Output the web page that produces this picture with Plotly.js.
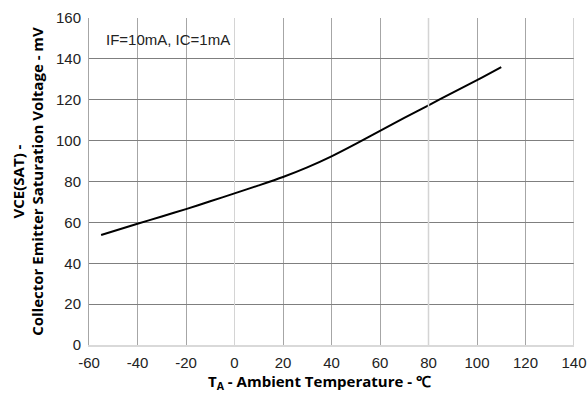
<!DOCTYPE html>
<html>
<head>
<meta charset="utf-8">
<script src="https://cdn.plot.ly/plotly-3.0.1.min.js"></script>
<style>html,body{margin:0;padding:0;background:#fff;}#chart{width:587px;height:401px;}</style>
</head>
<body>
<div id="chart"></div>
<script>
// Ambient temperature (°C)
const temperature = [-55, -40, -30, -20, -10, 0, 10, 20, 30, 40, 50, 60, 70, 80, 90, 100, 110];
// VCE(SAT) (mV)
const vceSat = [53.8, 59.3, 62.9, 66.5, 70.3, 74.2, 78.1, 82.2, 86.9, 92.3, 98.4, 104.8, 111.1, 117.3, 123.5, 129.6, 136];
const xTicks = [-60, -40, -20, 0, 20, 40, 60, 80, 100, 120, 140];
const yTicks = [0, 20, 40, 60, 80, 100, 120, 140, 160];

const trace = {
  x: temperature, y: vceSat, type: 'scatter', mode: 'lines',
  line: {color: '#000000', width: 2, shape: 'spline', smoothing: 0.8},
  hoverinfo: 'skip', showlegend: false
};

const tickFont = {family: 'Liberation Sans, Arial, sans-serif', size: 15, color: '#222'};
const titleFont = {family: 'Open Sans, sans-serif', size: 15, color: '#000', weight: 'bold'};

const layout = {
  width: 587, height: 401,
  margin: {l: 89, r: 13, t: 18, b: 56},
  paper_bgcolor: '#fff', plot_bgcolor: '#fff',
  xaxis: {
    range: [-60, 140], tickvals: xTicks, ticktext: xTicks.map(String),
    showgrid: true, gridcolor: '#a6a6a6', gridwidth: 1,
    zeroline: true, zerolinecolor: '#d4d4d4', zerolinewidth: 1.5,
    showline: true, linecolor: '#d9d9d9', linewidth: 1.5, mirror: false,
    ticks: '', tickfont: tickFont, ticklabelstandoff: 3
  },
  yaxis: {
    range: [0, 160], tickvals: yTicks, ticktext: yTicks.map(String),
    showgrid: true, gridcolor: '#7f7f7f', gridwidth: 1,
    zeroline: false,
    showline: true, linecolor: '#a6a6a6', linewidth: 1,
    ticks: '', tickfont: tickFont, ticklabelstandoff: 4,
    title: {text: '<b>VCE(SAT) -<br>Collector Emitter Saturation Voltage - mV</b>', font: titleFont, standoff: 8}
  },
  shapes: [
    {type: 'line', xref: 'x', yref: 'paper', x0: 140, x1: 140, y0: 0, y1: 1, line: {color: '#a6a6a6', width: 1}},
    {type: 'line', xref: 'x', yref: 'paper', x0: 80, x1: 80, y0: 0, y1: 1, line: {color: '#d4d4d4', width: 1.5}}
  ],
  annotations: [{
    xref: 'paper', yref: 'paper', x: 0.031, y: 0.935, xanchor: 'left', yanchor: 'middle',
    text: 'IF=10mA, IC=1mA', showarrow: false,
    font: {family: 'Liberation Sans, Arial, sans-serif', size: 15, color: '#222'}
  }, {
    xref: 'paper', yref: 'paper', x: 0.475, y: -0.113, xanchor: 'center', yanchor: 'middle',
    text: '<b>T<sub>A</sub> - Ambient Temperature - ℃</b>', showarrow: false,
    font: titleFont
  }]
};

Plotly.newPlot('chart', [trace], layout, {displayModeBar: false, staticPlot: true});
</script>
</body>
</html>
